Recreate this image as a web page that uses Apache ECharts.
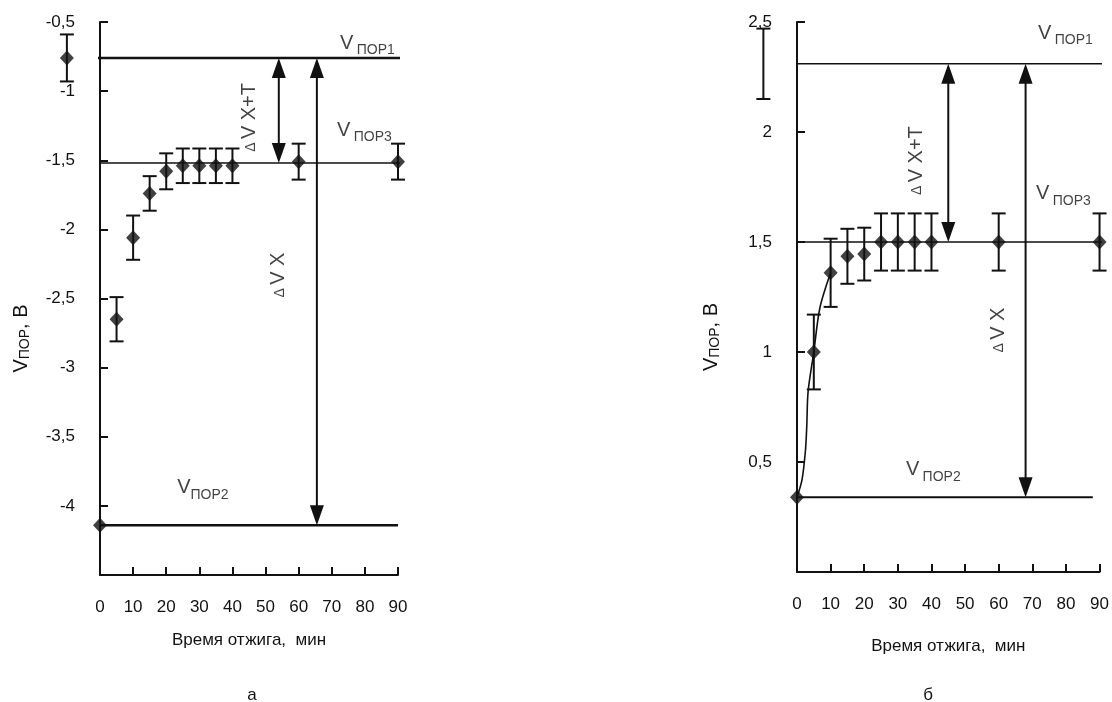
<!DOCTYPE html>
<html>
<head>
<meta charset="utf-8">
<script src="https://cdn.jsdelivr.net/npm/echarts@6/dist/echarts.min.js"></script>
<style>
html,body{margin:0;padding:0;background:#fff;}
#chart{width:1112px;height:702px;}
</style>
</head>
<body>
<div id="chart"></div>
<script>
// ---------- DATA ----------
const xTicks = [0, 10, 20, 30, 40, 50, 60, 70, 80, 90];
const xTitle = 'Время отжига,  мин';

// Panel а
const aTimes  = [5, 10, 15, 20, 25, 30, 35, 40, 60, 90];
const aValues = [-2.65, -2.06, -1.74, -1.58, -1.54, -1.54, -1.54, -1.54, -1.51, -1.51];
const aErrors = [0.16, 0.16, 0.125, 0.13, 0.125, 0.125, 0.125, 0.125, 0.13, 0.13];
const aV1 = -0.76, aV1Time = -10, aV1Err = 0.17, aV1End = 92;
const aV2 = -4.14, aV2Time = 0, aV2End = 90;
const aV3 = -1.52, aV3End = 92;
const aArrowXT = 54, aArrowX = 65.5;
const aYTicks = [-4.5, -4, -3.5, -3, -2.5, -2, -1.5, -1, -0.5];

// Panel б
const bTimes  = [5, 10, 15, 20, 25, 30, 35, 40, 60, 90];
const bValues = [1.0, 1.36, 1.435, 1.445, 1.5, 1.5, 1.5, 1.5, 1.5, 1.5];
const bErrors = [0.17, 0.155, 0.125, 0.12, 0.13, 0.13, 0.13, 0.13, 0.13, 0.13];
const bV1 = 2.31, bV1Time = -10, bV1Err = 0.16, bV1End = 92;
const bV2 = 0.34, bV2Time = 0, bV2End = 88;
const bV3 = 1.5, bV3End = 92;
const bCurveT = [0, 1.5, 2.5, 2.9, 3.3, 5, 6.8, 10];
const bCurveV = [0.34, 0.42, 0.55, 0.66, 0.82, 1.0, 1.2, 1.36];
const bArrowXT = 45, bArrowX = 68;
const bYTicks = [0, 0.5, 1, 1.5, 2, 2.5];

// ---------- STYLE ----------
const INK = '#111';
const FONT = 'Liberation Sans, Arial, sans-serif';
const chart = echarts.init(document.getElementById('chart'));
const comma = v => String(v).replace('.', ',');

function xAxisCfg(grid, gap) {
  return {
    type: 'value', gridIndex: grid, min: xTicks[0], max: xTicks[xTicks.length - 1], interval: 10,
    axisLine: {lineStyle: {color: INK, width: 2}},
    axisTick: {inside: true, length: 8, lineStyle: {color: INK, width: 2}},
    axisLabel: {margin: 24, fontSize: 17, color: INK, fontFamily: FONT},
    splitLine: {show: false},
    name: xTitle, nameLocation: 'middle', nameGap: gap,
    nameTextStyle: {fontSize: 17, color: INK, fontFamily: FONT}
  };
}
function yAxisCfg(grid, ticks, gap) {
  return {
    type: 'value', gridIndex: grid, min: ticks[0], max: ticks[ticks.length - 1], interval: 0.5,
    axisLine: {lineStyle: {color: INK, width: 2}},
    axisTick: {inside: true, length: 8, lineStyle: {color: INK, width: 2}},
    axisLabel: {margin: 25, fontSize: 17, color: INK, fontFamily: FONT, showMinLabel: false, formatter: comma},
    splitLine: {show: false},
    name: 'V{s|ПОР}, В', nameLocation: 'middle', nameGap: gap, nameRotate: 90,
    nameTextStyle: {fontSize: 20, color: INK, fontFamily: FONT, padding: [0, 80, 0, 0],
      rich: {s: {fontSize: 14, color: INK, fontFamily: FONT, padding: [7, 0, 0, 0]}}}
  };
}

function hLine(idx, x0, x1, v, w) {
  return {type: 'line', xAxisIndex: idx, yAxisIndex: idx, clip: false, symbol: 'none', silent: true,
    lineStyle: {color: INK, width: w}, data: [[x0, v], [x1, v]], z: 2};
}
function errBars(idx, times, vals, errs) {
  return {
    type: 'custom', xAxisIndex: idx, yAxisIndex: idx, clip: false, silent: true, z: 3,
    data: times.map((t, i) => [t, vals[i] - errs[i], vals[i] + errs[i]]),
    renderItem(params, api) {
      const lo = api.coord([api.value(0), api.value(1)]);
      const hi = api.coord([api.value(0), api.value(2)]);
      const w = 7, st = {stroke: INK, lineWidth: 2};
      return {type: 'group', children: [
        {type: 'line', shape: {x1: lo[0], y1: lo[1], x2: hi[0], y2: hi[1]}, style: st},
        {type: 'line', shape: {x1: lo[0] - w, y1: lo[1], x2: lo[0] + w, y2: lo[1]}, style: st},
        {type: 'line', shape: {x1: hi[0] - w, y1: hi[1], x2: hi[0] + w, y2: hi[1]}, style: st}
      ]};
    }
  };
}
function markers(idx, pts) {
  return {type: 'scatter', xAxisIndex: idx, yAxisIndex: idx, clip: false, silent: true, z: 4,
    symbol: 'diamond', symbolSize: [14, 15], itemStyle: {color: INK}, data: pts};
}
function arrows(idx, list) {
  return {
    type: 'custom', xAxisIndex: idx, yAxisIndex: idx, clip: false, silent: true, z: 3,
    data: list,
    renderItem(params, api) {
      const a = api.coord([api.value(0), api.value(1)]);
      const b = api.coord([api.value(0), api.value(2)]);
      const L = 20, H = 7;
      const dir = b[1] > a[1] ? 1 : -1;
      return {type: 'group', children: [
        {type: 'line', shape: {x1: a[0], y1: a[1] + dir * 4, x2: b[0], y2: b[1] - dir * 4}, style: {stroke: INK, lineWidth: 2}},
        {type: 'polygon', shape: {points: [[a[0], a[1]], [a[0] - H, a[1] + dir * L], [a[0] + H, a[1] + dir * L]]}, style: {fill: INK}},
        {type: 'polygon', shape: {points: [[b[0], b[1]], [b[0] - H, b[1] - dir * L], [b[0] + H, b[1] - dir * L]]}, style: {fill: INK}}
      ]};
    }
  };
}
const richLbl = {
  v: {fontSize: 20, color: INK, fontFamily: FONT, verticalAlign: 'bottom', padding: [0, 0, 4, 0]},
  s: {fontSize: 14, color: INK, fontFamily: FONT, verticalAlign: 'bottom'},
  d: {fontSize: 14, color: INK, fontFamily: FONT, verticalAlign: 'bottom', padding: [0, 0, 2, 0]},
  t: {fontSize: 20, color: INK, fontFamily: FONT, verticalAlign: 'bottom'}
};
function notes(idx, items) {
  return {
    type: 'scatter', xAxisIndex: idx, yAxisIndex: idx, clip: false, silent: true, symbolSize: 0, z: 5,
    data: items.map(it => ({
      value: [it.x, it.y],
      label: {show: true, position: 'inside', formatter: it.text, rotate: it.rotate || 0,
        align: it.align || 'left', verticalAlign: 'middle', rich: richLbl}
    }))
  };
}

// Annotation anchors (data coordinates)
const aNotes = [
  {x: 72.5, y: -0.67, text: '{v|V} {s|ПОР1}'},
  {x: 71.6, y: -1.30, text: '{v|V} {s|ПОР3}'},
  {x: 23.3, y: -3.885, text: '{v|V}{s|ПОР2}'},
  {x: 45.2, y: -1.19, text: '{d|Δ} {t|V X+T}', rotate: 90, align: 'center'},
  {x: 54, y: -2.33, text: '{d|Δ} {t|V X}', rotate: 90, align: 'center'}
];
const bNotes = [
  {x: 71.7, y: 2.44, text: '{v|V} {s|ПОР1}'},
  {x: 71.1, y: 1.71, text: '{v|V} {s|ПОР3}'},
  {x: 32.4, y: 0.455, text: '{v|V} {s|ПОР2}'},
  {x: 35.4, y: 1.87, text: '{d|Δ} {t|V X+T}', rotate: 90, align: 'center'},
  {x: 59.9, y: 1.10, text: '{d|Δ} {t|V X}', rotate: 90, align: 'center'}
];

const option = {
  backgroundColor: '#fff',
  animation: false,
  textStyle: {fontFamily: FONT},
  title: [
    {text: 'а', left: 247, top: 682, textAlign: 'center', textStyle: {fontSize: 17, fontWeight: 'normal', color: INK, fontFamily: FONT}},
    {text: 'б', left: 923, top: 682, textAlign: 'center', textStyle: {fontSize: 17, fontWeight: 'normal', color: INK, fontFamily: FONT}}
  ],
  grid: [
    {left: 100, top: 22, width: 298, height: 553},
    {left: 797, top: 22, width: 305, height: 550}
  ],
  xAxis: [xAxisCfg(0, 57), xAxisCfg(1, 66)],
  yAxis: [yAxisCfg(0, aYTicks, 68), yAxisCfg(1, bYTicks, 75)],
  series: [
    // panel а
    hLine(0, aV1Time, aV1End, aV1, 2.5),
    hLine(0, 0, aV3End, aV3, 1.6),
    hLine(0, aV2Time, aV2End, aV2, 2.5),
    errBars(0, aTimes.concat([aV1Time]), aValues.concat([aV1]), aErrors.concat([aV1Err])),
    markers(0, aTimes.map((t, i) => [t, aValues[i]]).concat([[aV1Time, aV1], [aV2Time, aV2]])),
    arrows(0, [[aArrowXT, aV1, aV3], [aArrowX, aV1, aV2]]),
    notes(0, aNotes),
    // panel б
    hLine(1, bV1Time, bV1End, bV1, 1.6),
    hLine(1, 0, bV3End, bV3, 1.6),
    hLine(1, bV2Time, bV2End, bV2, 2),
    {type: 'line', xAxisIndex: 1, yAxisIndex: 1, smooth: 0.3, symbol: 'none', silent: true, clip: false,
      lineStyle: {color: INK, width: 1.6}, data: bCurveT.map((t, i) => [t, bCurveV[i]]), z: 2},
    errBars(1, bTimes.concat([bV1Time]), bValues.concat([bV1]), bErrors.concat([bV1Err])),
    markers(1, bTimes.map((t, i) => [t, bValues[i]]).concat([[bV2Time, bV2]])),
    arrows(1, [[bArrowXT, bV1, bV3], [bArrowX, bV1, bV2]]),
    notes(1, bNotes)
  ]
};
chart.setOption(option);
</script>
</body>
</html>
